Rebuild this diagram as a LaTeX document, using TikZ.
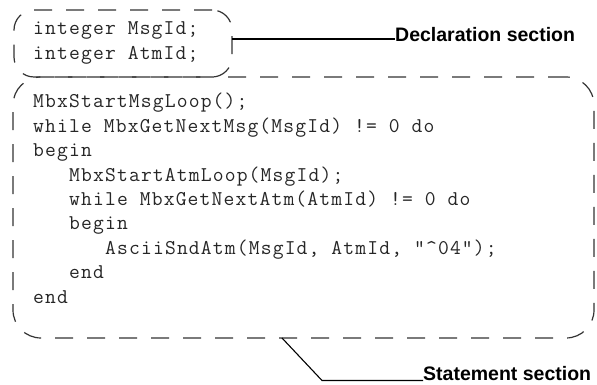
\documentclass[tikz,border=0pt]{standalone}
\usepackage{fontspec}
\newfontfamily\codefont[LetterSpace=5.5]{Latin Modern Mono}
\newfontfamily\labelfont{Liberation Sans}
\begin{document}
\begin{tikzpicture}[x=1pt,y=1pt,
  sectionbox/.style={draw=black!80, line width=1.2pt, dash pattern=on 18pt off 14pt,
    inner sep=0pt, outer sep=0pt},
  codeline/.style={anchor=base west, inner sep=0pt, text=black!85,
    font=\codefont\fontsize{21}{24}\selectfont},
  sectionlabel/.style={anchor=base west, inner sep=0pt,
    font=\labelfont\bfseries\fontsize{19.5}{22}\selectfont},
  pointer/.style={draw=black, line width=1.1pt}]
\useasboundingbox (0,0) rectangle (597,385);

% section outlines
\node[sectionbox, rounded corners=20pt, minimum width=218pt, minimum height=67pt]
  (declbox) at (123,341.5) {};
\node[sectionbox, rounded corners=28pt, minimum width=581pt, minimum height=261pt]
  (stmtbox) at (303.5,177.5) {};

% declarations
\node[codeline] (d1) at (33,350) {integer MsgId;};
\node[codeline] (d2) at (33,325) {integer AtmId;};

% statements
\node[codeline] (s1) at (33,277)   {MbxStartMsgLoop();};
\node[codeline] (s2) at (33,252.6) {while MbxGetNextMsg(MsgId) != 0 do};
\node[codeline] (s3) at (33,228.2) {begin};
\node[codeline] (s4) at (69,203.8) {MbxStartAtmLoop(MsgId);};
\node[codeline] (s5) at (69,179.4) {while MbxGetNextAtm(AtmId) != 0 do};
\node[codeline] (s6) at (69,155)   {begin};
\node[codeline] (s7) at (105,130.6) {AsciiSndAtm(MsgId, AtmId, "\textasciicircum{}04”);};
\node[codeline] (s8) at (69,106.2) {end};
\node[codeline] (s9) at (33,81.8)  {end};

% labels and their pointers
\node[sectionlabel] (decllabel) at (395,343) {Declaration section};
\node[sectionlabel] (stmtlabel) at (423,4) {Statement section};

\coordinate (declstart) at ([yshift=4.5pt]declbox.east);
\draw[pointer] (declstart) -- (declstart -| decllabel.west);

\coordinate (knee) at (322,4.5);
\draw[pointer] ([xshift=-21.5pt]stmtbox.south) -- (knee) -- (knee -| stmtlabel.west);
\end{tikzpicture}
\end{document}
